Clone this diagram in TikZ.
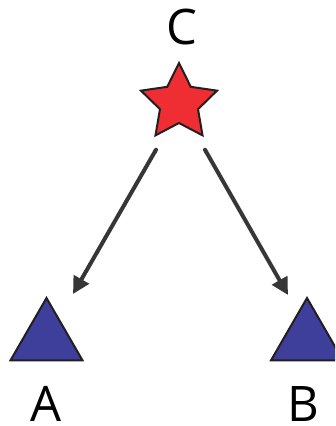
\documentclass[tikz,border=0pt]{standalone}
\usepackage{fontspec}
\setmainfont{Open Sans}
\usetikzlibrary{arrows.meta,shapes.geometric}
\definecolor{Ink}{HTML}{231F20}
\definecolor{FlowInk}{HTML}{363636}
\definecolor{StarColor}{HTML}{EE2E33}
\definecolor{NodeColor}{HTML}{3D3F9B}
\tikzset{
  link flow/.style={{Round Cap}-{Triangle[length=17pt,width=17pt]}, draw=FlowInk, line width=4pt},
  source star/.style={star, star points=5, star point ratio=2, minimum size=80pt,
    inner sep=0pt, fill=StarColor, draw=Ink, line width=2pt},
  target tri/.style={regular polygon, regular polygon sides=3, minimum size=83pt,
    inner sep=0pt, fill=NodeColor, draw=Ink, line width=2pt},
  vertex label/.style={font=\fontsize{49}{55}\selectfont, anchor=base, inner sep=0pt, text=black},
}

\begin{document}
\begin{tikzpicture}[x=1pt, y=-1pt]
  \useasboundingbox (0,0) rectangle (335,426);
  \clip (0,0) rectangle (335,426);

  % Source and the two targets.
  \node[source star] (C) at (179,103) {};
  \node[target tri] (A) at (46.5,339.5) {};
  \node[target tri] (B) at (307,339.5) {};

  % Labels.
  \node[vertex label] (labelC) at (182,44) {C};
  \node[vertex label] (labelA) at (46,421) {A};
  \node[vertex label] (labelB) at (303,421) {B};

  % Arrow ends sit off the shapes.
  \coordinate (outA) at ([shift={(-22,45)}]C.center);
  \coordinate (outB) at ([shift={(25,45)}]C.center);
  \coordinate (inA) at ([shift={(26.5,-45.5)}]A.center);
  \coordinate (inB) at ([shift={(-19,-44.5)}]B.center);

  \draw[link flow] (outA) -- (inA);
  \draw[link flow] (outB) -- (inB);
\end{tikzpicture}
\end{document}
